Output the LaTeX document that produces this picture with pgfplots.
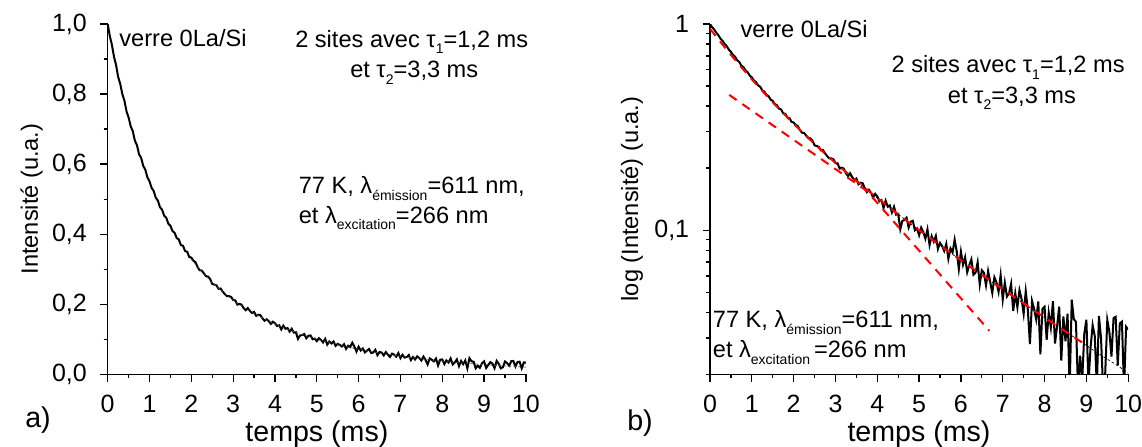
\documentclass[border=0pt]{standalone}
\usepackage{fontspec}
\setmainfont{Liberation Sans}
\usepackage{pgfplots}
\usepackage{pgfplotstable}
\pgfplotsset{compat=1.18}
\newcommand\txt{\fontsize{11.8}{14}\selectfont}
\newcommand\lab{\fontsize{14.3}{16}\selectfont}
\newcommand\sub[1]{\raisebox{-3.3pt}{\fontsize{7}{8}\selectfont #1}}

\pgfplotstableread[row sep=\\]{
t I\\
0.00 1.000\\ 0.05 0.966\\ 0.10 0.941\\ 0.15 0.907\\ 0.20 0.883\\ 0.25 0.849\\
0.30 0.829\\ 0.35 0.800\\ 0.40 0.781\\ 0.45 0.751\\ 0.50 0.733\\
0.55 0.708\\ 0.60 0.694\\ 0.65 0.667\\ 0.70 0.654\\ 0.75 0.628\\
0.80 0.618\\ 0.85 0.595\\ 0.90 0.584\\ 0.95 0.562\\ 1.00 0.551\\
1.05 0.532\\ 1.10 0.523\\ 1.15 0.504\\ 1.20 0.496\\ 1.25 0.477\\
1.30 0.470\\ 1.35 0.453\\ 1.40 0.447\\ 1.45 0.430\\ 1.50 0.424\\
1.55 0.409\\ 1.60 0.404\\ 1.65 0.389\\ 1.70 0.385\\ 1.75 0.369\\
1.80 0.367\\ 1.85 0.352\\ 1.90 0.350\\ 1.95 0.335\\ 2.00 0.333\\
2.05 0.324\\ 2.10 0.320\\ 2.15 0.306\\ 2.20 0.297\\ 2.25 0.296\\
2.30 0.288\\ 2.35 0.280\\ 2.40 0.279\\ 2.45 0.272\\ 2.50 0.258\\
2.55 0.256\\ 2.60 0.254\\ 2.65 0.244\\ 2.70 0.245\\ 2.75 0.236\\
2.80 0.229\\ 2.85 0.223\\ 2.90 0.223\\ 2.95 0.221\\ 3.00 0.212\\
3.05 0.211\\ 3.10 0.199\\ 3.15 0.201\\ 3.20 0.199\\ 3.25 0.189\\
3.30 0.183\\ 3.35 0.189\\ 3.40 0.181\\ 3.45 0.175\\ 3.50 0.178\\
3.55 0.167\\ 3.60 0.170\\ 3.65 0.169\\ 3.70 0.160\\ 3.75 0.153\\
3.80 0.157\\ 3.85 0.152\\ 3.90 0.144\\ 3.95 0.150\\ 4.00 0.146\\
4.05 0.138\\ 4.10 0.140\\ 4.15 0.128\\ 4.20 0.139\\ 4.25 0.130\\
4.30 0.132\\ 4.35 0.122\\ 4.40 0.130\\ 4.45 0.119\\ 4.50 0.120\\
4.55 0.101\\ 4.60 0.111\\ 4.65 0.112\\ 4.70 0.115\\ 4.75 0.103\\
4.80 0.110\\ 4.85 0.111\\ 4.90 0.100\\ 4.95 0.102\\ 5.00 0.0945\\
5.05 0.103\\ 5.10 0.098\\ 5.15 0.091\\ 5.20 0.101\\ 5.25 0.0847\\
5.30 0.0936\\ 5.35 0.0881\\ 5.40 0.0938\\ 5.45 0.0811\\ 5.50 0.0868\\
5.55 0.0838\\ 5.60 0.0793\\ 5.65 0.0859\\ 5.70 0.0726\\ 5.75 0.0816\\
5.80 0.078\\ 5.85 0.090\\ 5.90 0.0787\\ 5.95 0.0647\\ 6.00 0.0787\\
6.05 0.068\\ 6.10 0.074\\ 6.15 0.0625\\ 6.20 0.0677\\ 6.25 0.0722\\
6.30 0.0608\\ 6.35 0.0622\\ 6.40 0.0699\\ 6.45 0.0545\\ 6.50 0.0639\\
6.55 0.0622\\ 6.60 0.054\\ 6.65 0.0635\\ 6.70 0.0561\\ 6.75 0.0496\\
6.80 0.0591\\ 6.85 0.0559\\ 6.90 0.0502\\ 6.95 0.0606\\ 7.00 0.0461\\
7.05 0.0557\\ 7.10 0.0477\\ 7.15 0.0494\\ 7.20 0.055\\ 7.25 0.0406\\
7.30 0.0495\\ 7.35 0.0423\\ 7.40 0.0512\\ 7.45 0.0464\\ 7.50 0.0393\\
7.55 0.0506\\ 7.60 0.0411\\ 7.65 0.028\\ 7.70 0.0454\\ 7.75 0.0415\\
7.80 0.0369\\ 7.85 0.0451\\ 7.90 0.025\\ 7.95 0.0415\\ 8.00 0.0425\\
8.05 0.0294\\ 8.10 0.0398\\ 8.15 0.0338\\ 8.20 0.0453\\ 8.25 0.0282\\
8.30 0.0343\\ 8.35 0.0426\\ 8.40 0.0233\\ 8.45 0.0382\\ 8.50 0.0289\\
8.55 0.0394\\ 8.60 0.017\\ 8.65 0.046\\ 8.70 0.037\\ 8.75 0.036\\
8.80 0.017\\ 8.85 0.0246\\ 8.90 0.0187\\ 8.95 0.0315\\ 9.00 0.0368\\
9.05 0.018\\ 9.10 0.027\\ 9.15 0.0346\\ 9.20 0.0307\\ 9.25 0.0175\\
9.30 0.0384\\ 9.35 0.030\\ 9.40 0.017\\ 9.45 0.0202\\ 9.50 0.0367\\
9.55 0.0321\\ 9.60 0.0244\\ 9.65 0.0375\\ 9.70 0.038\\ 9.75 0.0221\\
9.80 0.0353\\ 9.85 0.036\\ 9.90 0.017\\ 9.95 0.034\\ 10.00 0.033\\
}\decay

\pgfplotstableread[row sep=\\]{
t F\\
0.00 0.948\\ 0.25 0.8178\\ 0.50 0.7086\\ 0.75 0.6167\\ 1.00 0.5390\\
1.25 0.4732\\ 1.50 0.4171\\ 1.75 0.3693\\ 2.00 0.3281\\ 2.25 0.2927\\
2.50 0.2620\\ 2.75 0.2353\\ 3.00 0.2119\\ 3.25 0.1914\\ 3.50 0.1734\\
3.75 0.1575\\ 4.00 0.1433\\ 4.25 0.1306\\ 4.50 0.1194\\ 4.75 0.1092\\
5.00 0.1001\\ 5.25 0.0919\\ 5.50 0.0844\\ 5.75 0.0776\\ 6.00 0.0715\\
6.25 0.0658\\ 6.50 0.0607\\ 6.75 0.0560\\ 7.00 0.0517\\ 7.25 0.0478\\
7.50 0.0441\\ 7.75 0.0407\\ 8.00 0.0377\\ 8.25 0.0348\\ 8.50 0.0322\\
8.75 0.0299\\ 9.00 0.0276\\ 9.25 0.0255\\ 9.50 0.0237\\ 9.75 0.0220\\
10.00 0.0203\\
}\fit

\begin{document}
\begin{tikzpicture}[x=1pt,y=1pt]
\useasboundingbox (0,0) rectangle (571,223);
\pgfplotsset{panel/.style={
  scale only axis, width=209.1pt, height=175.15pt, anchor=south west,
  xmin=0, xmax=10, axis lines*=left, tick align=outside,
  major tick length=3.7pt, minor tick length=2pt,
  xtick={0,1,2,3,4,5,6,7,8,9,10},
  xticklabels={0,1,2,3,4,5,6,7,8,9,10},
  minor x tick num=1,
  axis line style={line width=0.65pt, black},
  every tick/.style={line width=0.65pt, black},
  tick label style={font=\fontsize{12.5}{14}\selectfont},
  xticklabel style={yshift=-3.2pt},
  yticklabel style={xshift=-3.2pt},
  clip mode=individual,
}}
\begin{axis}[panel, at={(53.85pt,35.85pt)},
  ymin=0, ymax=1, ytick={0,0.2,0.4,0.6,0.8,1},
  yticklabels={{0,0},{0,2},{0,4},{0,6},{0,8},{1,0}},
  minor y tick num=1]
\addplot[black, line width=1pt] table[x=t,y=I]{\decay};
\addplot[black!70, line width=0.35pt, dash pattern=on 1.2pt off 1.2pt, restrict x to domain=2:10] table[x=t,y=F]{\fit};
\node[anchor=base west, inner sep=0, font=\txt] at (axis cs:0.27,0.936) {verre 0La/Si};
\node[anchor=base, inner sep=0, font=\txt] at (axis cs:7.27,0.934) {2 sites avec τ\sub{1}=1,2 ms};
\node[anchor=base, inner sep=0, font=\txt] at (axis cs:7.33,0.847) {et τ\sub{2}=3,3 ms};
\node[anchor=base west, inner sep=0, font=\txt] at (axis cs:4.56,0.516) {77 K, λ\sub{émission}=611 nm,};
\node[anchor=base west, inner sep=0, font=\txt] at (axis cs:4.56,0.431) {et λ\sub{excitation}=266 nm};
\end{axis}
\begin{axis}[panel, at={(355pt,35.85pt)},
  ymode=log, ymin=0.02, ymax=1, ytick={0.1,1},
  yticklabels={{0,1},1},
  minor ytick={0.02,0.03,0.04,0.05,0.06,0.07,0.08,0.09,0.2,0.3,0.4,0.5,0.6,0.7,0.8,0.9}]
\addplot[black, line width=1pt] table[x=t,y=I]{\decay};
\addplot[black, line width=0.35pt, dash pattern=on 1.2pt off 1.2pt, restrict x to domain=3:10] table[x=t,y=F]{\fit};
\addplot[red, line width=1pt, dash pattern=on 4.5pt off 3.5pt, restrict x to domain=0:9.2] table[x=t,y=F]{\fit};
\addplot[red, line width=1pt, dash pattern=on 4.5pt off 3.5pt] coordinates {(0.46,0.453) (3.75,0.155) (6.68,0.0325)};
\node[anchor=base west, inner sep=0, font=\txt] at (axis cs:0.72,0.859) {verre 0La/Si};
\node[anchor=base, inner sep=0, font=\txt] at (axis cs:7.13,0.581) {2 sites avec τ\sub{1}=1,2 ms};
\node[anchor=base, inner sep=0, font=\txt] at (axis cs:7.22,0.413) {et τ\sub{2}=3,3 ms};
\node[anchor=base west, inner sep=0, font=\txt] at (axis cs:0.06,0.0337) {77 K, λ\sub{émission}=611 nm,};
\node[anchor=base west, inner sep=0, font=\txt] at (axis cs:0.06,0.0241) {et λ\sub{excitation}\,=266 nm};
\end{axis}
\node[rotate=90, anchor=base, inner sep=0, font=\txt] at (19,123.5) {Intensité (u.a.)};
\node[rotate=90, anchor=base, inner sep=0, font=\txt] at (319,123.5) {log (Intensité) (u.a.)};
\node[anchor=base, inner sep=0, font=\lab] at (158.45,2.2) {temps (ms)};
\node[anchor=base, inner sep=0, font=\lab] at (459.5,2.2) {temps (ms)};
\node[inner sep=0, font=\lab] at (19,13) {a)};
\node[inner sep=0, font=\lab] at (320,11.5) {b)};
\end{tikzpicture}
\end{document}
